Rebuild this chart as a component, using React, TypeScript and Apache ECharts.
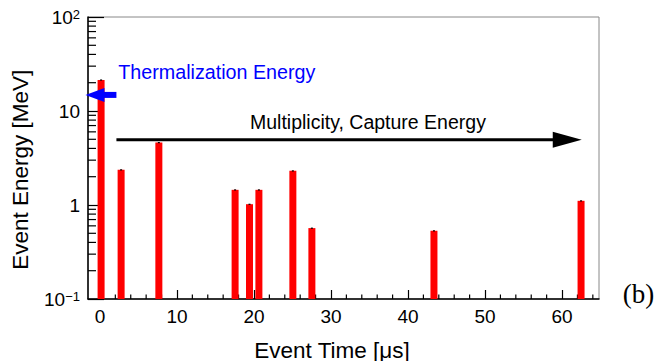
import React, { useEffect, useRef } from "react";
import * as echarts from "echarts";

// ---- data ----
const barTimes = [0.15, 2.75, 7.65, 17.55, 19.42, 20.64, 25.05, 27.52, 43.37, 62.47];
const barEnergies = [21.4, 2.37, 4.62, 1.45, 1.02, 1.45, 2.31, 0.568, 0.532, 1.108];
const xMajorTicks = [0, 10, 20, 30, 40, 50, 60];
const xMinorTicks = [2, 4, 6, 8, 12, 14, 16, 18, 22, 24, 26, 28, 32, 34, 36, 38, 42, 44, 46, 48, 52, 54, 56, 58, 62, 64];
const yMinorTicks = [0.2, 0.3, 0.4, 0.5, 0.6, 0.7, 0.8, 0.9, 2, 3, 4, 5, 6, 7, 8, 9, 20, 30, 40, 50, 60, 70, 80, 90];
const arrowStartX = [2.14, 2.14];
const arrowTipX = [-1.88, 62.56];
const arrowY = [14.83, 4.93];
const arrowLabels = ["Thermalization Energy", "Multiplicity, Capture Energy"];

const X_MIN = -1.55;
const X_MAX = 64.8;
const Y_MIN = 0.1;
const Y_MAX = 100;

const SANS = "'Liberation Sans', Arial, sans-serif";
const SERIF = "'Liberation Serif', 'Times New Roman', serif";

const ARROW_STYLE = [
  { color: "#0000ff", lineWidth: 6, headLen: 19, headHalf: 7 },
  { color: "#000000", lineWidth: 3, headLen: 29, headHalf: 8 },
];

export default function App() {
  const ref = useRef<HTMLDivElement>(null);

  useEffect(() => {
    if (!ref.current) return;
    const chart = echarts.init(ref.current, null, { renderer: "svg" });

    const option: any = {
      animation: false,
      backgroundColor: "#ffffff",
      grid: {
        left: 88,
        right: 58,
        top: 17,
        bottom: 62,
        show: true,
        borderColor: "#888888",
        borderWidth: 1,
        backgroundColor: "transparent",
      },
      xAxis: {
        type: "value",
        min: X_MIN,
        max: X_MAX,
        splitLine: { show: false },
        axisLine: { show: true, onZero: false, lineStyle: { color: "#000", width: 1.5 } },
        axisTick: {
          show: true,
          inside: true,
          length: 9,
          customValues: xMajorTicks,
          lineStyle: { color: "#000", width: 1.2 },
        },
        axisLabel: {
          customValues: xMajorTicks,
          fontFamily: SANS,
          fontSize: 19,
          color: "#000",
          margin: 8,
        },
      },
      yAxis: {
        type: "log",
        logBase: 10,
        min: Y_MIN,
        max: Y_MAX,
        splitLine: { show: false },
        axisLine: { show: true, onZero: false, lineStyle: { color: "#000", width: 1.5 } },
        axisTick: { show: true, inside: true, length: 16, lineStyle: { color: "#000", width: 1.2 } },
        axisLabel: {
          margin: 8,
          formatter: (v: number) => {
            const e = Math.round(Math.log10(v));
            if (e === 0) return "{b|1}";
            if (e === 1) return "{b|10}";
            return `{b|10}{s|${e < 0 ? "\u2212" : ""}${Math.abs(e)}}`;
          },
          rich: {
            b: { fontFamily: SANS, fontSize: 19, color: "#000" },
            s: { fontFamily: SANS, fontSize: 13, color: "#000", verticalAlign: "top" },
          },
        },
      },
      series: [
        {
          type: "custom",
          name: "yMinor",
          z: 1,
          clip: false,
          encode: { y: 0 },
          data: yMinorTicks.map((v) => [v]),
          renderItem: (params: any, api: any) => {
            const p = api.coord([X_MIN, api.value(0)]);
            return {
              type: "line",
              shape: { x1: p[0], y1: p[1], x2: p[0] + 8, y2: p[1] },
              style: { stroke: "#000", lineWidth: 1.2 },
            };
          },
        },
        {
          type: "custom",
          name: "xMinor",
          z: 1,
          clip: false,
          encode: { x: 0 },
          data: xMinorTicks.map((v) => [v]),
          renderItem: (params: any, api: any) => {
            const p = api.coord([api.value(0), Y_MIN]);
            return {
              type: "line",
              shape: { x1: p[0], y1: p[1], x2: p[0], y2: p[1] - 4.5 },
              style: { stroke: "#000", lineWidth: 1.2 },
            };
          },
        },
        {
          type: "custom",
          name: "Energy",
          z: 3,
          encode: { x: 0, y: 1 },
          data: barTimes.map((t, i) => [t, barEnergies[i]]),
          renderItem: (params: any, api: any) => {
            const top = api.coord([api.value(0), api.value(1)]);
            const base = api.coord([api.value(0), Y_MIN]);
            const w = 7;
            return {
              type: "group",
              children: [
                {
                  type: "rect",
                  shape: { x: top[0] - w / 2, y: top[1], width: w, height: base[1] - top[1] },
                  style: { fill: "#ff0000" },
                },
                {
                  type: "rect",
                  shape: { x: top[0] - 1, y: top[1] - 0.5, width: 2, height: 1.2 },
                  style: { fill: "#000000" },
                },
              ],
            };
          },
        },
        {
          type: "custom",
          name: "arrows",
          z: 4,
          clip: false,
          encode: { x: [0, 1], y: 2 },
          data: arrowStartX.map((x, i) => [x, arrowTipX[i], arrowY[i]]),
          renderItem: (params: any, api: any) => {
            const i = params.dataIndex;
            const st = ARROW_STYLE[i];
            const s = api.coord([api.value(0), api.value(2)]);
            const t = api.coord([api.value(1), api.value(2)]);
            const dir = t[0] >= s[0] ? 1 : -1;
            const bx = t[0] - dir * st.headLen;
            return {
              type: "group",
              children: [
                {
                  type: "line",
                  shape: { x1: s[0], y1: s[1], x2: bx + dir * 2, y2: t[1] },
                  style: { stroke: st.color, lineWidth: st.lineWidth },
                },
                {
                  type: "polygon",
                  shape: {
                    points: [
                      [t[0], t[1]],
                      [bx, t[1] - st.headHalf],
                      [bx, t[1] + st.headHalf],
                    ],
                  },
                  style: { fill: st.color },
                },
              ],
            };
          },
        },
      ],
      graphic: [
        {
          type: "text",
          x: 118.3,
          y: 72.2,
          style: {
            text: arrowLabels[0],
            fill: "#0000ff",
            font: `19.7px ${SANS}`,
            align: "left",
            verticalAlign: "middle",
          },
          z: 10,
        },
        {
          type: "text",
          x: 250,
          y: 121.5,
          style: {
            text: arrowLabels[1],
            fill: "#000",
            font: `19.5px ${SANS}`,
            align: "left",
            verticalAlign: "middle",
          },
          z: 10,
        },
        {
          type: "text",
          x: 20.5,
          y: 169.7,
          rotation: Math.PI / 2,
          style: {
            text: "Event Energy [MeV]",
            fill: "#000",
            font: `22.5px ${SANS}`,
            align: "center",
            verticalAlign: "middle",
          },
          z: 10,
        },
        {
          type: "text",
          x: 332,
          y: 350,
          style: {
            text: "Event Time [\u03bcs]",
            fill: "#000",
            font: `22.5px ${SANS}`,
            align: "center",
            verticalAlign: "middle",
          },
          z: 10,
        },
        {
          type: "text",
          x: 638.5,
          y: 294,
          style: {
            text: "(b)",
            fill: "#000",
            font: `27px ${SERIF}`,
            align: "center",
            verticalAlign: "middle",
          },
          z: 10,
        },
      ],
    };

    chart.setOption(option);
    return () => chart.dispose();
  }, []);

  return (
    <div
      ref={ref}
      style={{ position: "fixed", left: 0, top: 0, width: 657, height: 361, background: "#fff" }}
    />
  );
}
